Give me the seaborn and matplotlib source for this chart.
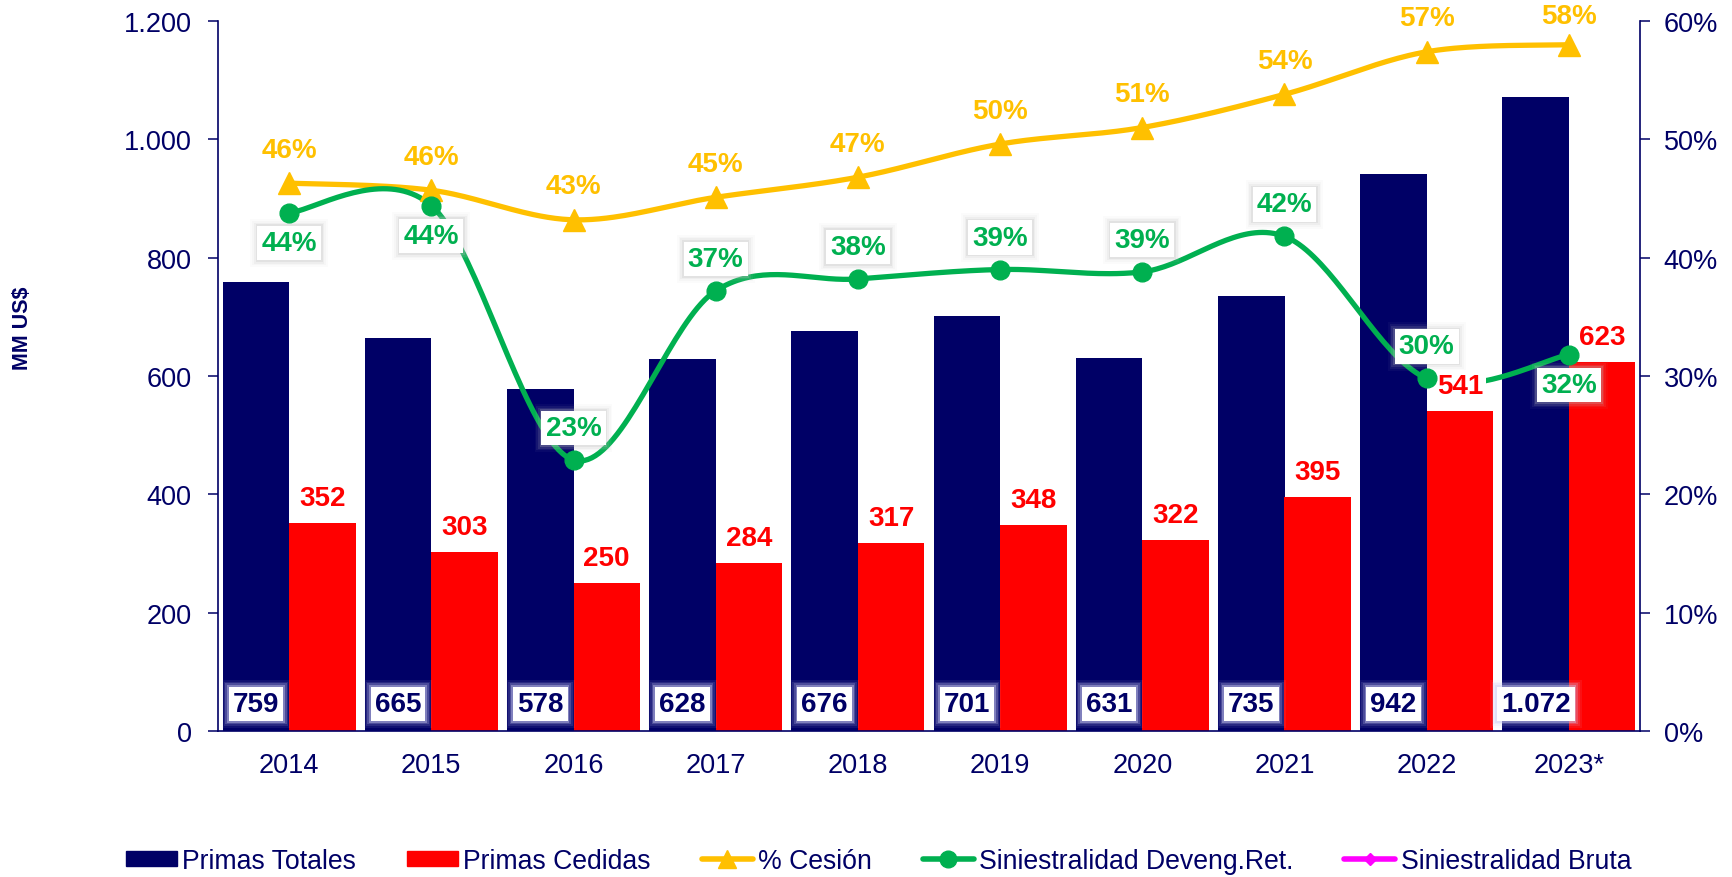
import numpy as np
import pandas as pd
import matplotlib
matplotlib.use("Agg")
import matplotlib.pyplot as plt
import matplotlib.patches as mpatches
from matplotlib.lines import Line2D
from matplotlib.ticker import FuncFormatter, FixedLocator
import seaborn as sns

# ---- data -------------------------------------------------------------
years = ["2014", "2015", "2016", "2017", "2018", "2019", "2020", "2021", "2022", "2023*"]
primas_totales = [759, 665, 578, 628, 676, 701, 631, 735, 942, 1072]
primas_cedidas = [352, 303, 250, 284, 317, 348, 322, 395, 541, 623]
pct_cesion = [46.3, 45.7, 43.2, 45.1, 46.8, 49.6, 51.0, 53.8, 57.4, 58.0]
sin_deveng_ret = [43.8, 44.4, 22.9, 37.2, 38.2, 39.0, 38.8, 41.8, 29.8, 31.8]
green_label_above = [False, False, True, True, True, True, True, True, True, False]

series_names = ["Primas Totales", "Primas Cedidas", "% Cesión",
                "Siniestralidad Deveng.Ret.", "Siniestralidad Bruta"]

NAVY = "#000066"
RED = "#FF0000"
YELLOW = "#FFC000"
GREEN = "#00B050"
MAGENTA = "#FF00FF"

sns.set_style("white")
plt.rcParams["font.family"] = ["Liberation Sans", "DejaVu Sans"]


def thousands(v, _pos=None):
    return f"{int(round(v)):,}".replace(",", ".")


def smooth_curve(xv, yv, n=40):
    """Cubic Bezier smoothing through every point (Catmull-Rom style)."""
    P = np.column_stack([xv, yv]).astype(float)
    E = np.vstack([P[0], P, P[-1]])
    out = []
    t = np.linspace(0, 1, n)[:, None]
    for i in range(len(P) - 1):
        p0, p3 = P[i], P[i + 1]
        c1 = p0 + (E[i + 2] - E[i]) / 6.0
        c2 = p3 - (E[i + 3] - E[i + 1]) / 6.0
        seg = ((1 - t) ** 3) * p0 + 3 * ((1 - t) ** 2) * t * c1 \
            + 3 * (1 - t) * t ** 2 * c2 + t ** 3 * p3
        out.append(seg if i == 0 else seg[1:])
    out = np.vstack(out)
    return out[:, 0], out[:, 1]


def glow_label(axis, text, xy, offset, color, glow, strength=1.0, xycoords="data", z=3.5):
    """Bold label on a white box whose edge fades out softly."""
    common = dict(xy=xy, xycoords=xycoords, xytext=offset, textcoords="offset points",
                  ha="center", va="center", fontsize=20, fontweight="bold")
    for pad, alpha in [(0.40, 0.08), (0.33, 0.13), (0.27, 0.22), (0.21, 0.4)]:
        axis.annotate(text, color="none", zorder=z - 0.01,
                      bbox=dict(boxstyle=f"square,pad={pad}", fc=glow, ec="none",
                                alpha=alpha * strength), **common)
    axis.annotate(text, color=color, zorder=z,
                  bbox=dict(boxstyle="square,pad=0.15", fc="white", ec="none"), **common)


df = pd.DataFrame({
    "Año": years * 2,
    "Valor": primas_totales + primas_cedidas,
    "Serie": [series_names[0]] * len(years) + [series_names[1]] * len(years),
})

W, H = 1733, 878
fig = plt.figure(figsize=(W / 100, H / 100), dpi=100)
ax = fig.add_axes([218 / W, 1 - 732 / H, (1640 - 218) / W, (732 - 22) / H])

BAR_W = 0.935
sns.barplot(data=df, x="Año", y="Valor", hue="Serie", palette=[NAVY, RED],
            width=BAR_W, saturation=1, linewidth=0, ax=ax, legend=False)

ax.set_xlim(-0.5, len(years) - 0.5)
ax.set_ylim(0, 1200)
ax.set_yticks(np.arange(0, 1201, 200))
ax.yaxis.set_major_formatter(FuncFormatter(thousands))
ax.set_xlabel("")
ax.set_ylabel("")
fig.text(23 / W, 1 - 328 / H, "MM US$", rotation=90, ha="center", va="center",
         fontsize=15.5, fontweight="bold", color=NAVY)

# category ticks: labels centred, marks on the boundaries
ax.set_xticks(range(len(years)))
ax.set_xticklabels(years)
ax.xaxis.set_minor_locator(FixedLocator(np.arange(-0.5, len(years), 1.0)))
ax.tick_params(axis="x", which="major", length=0, pad=15, labelsize=19.5, labelcolor=NAVY)
ax.tick_params(axis="x", which="minor", length=7, width=1.1, color=NAVY, direction="out")
ax.tick_params(axis="y", which="major", left=True, length=7, width=1.1, color=NAVY,
               direction="out", pad=12, labelsize=19.5, labelcolor=NAVY)

for s in ["top", "right"]:
    ax.spines[s].set_visible(False)
for s in ["left", "bottom"]:
    ax.spines[s].set_color(NAVY)
    ax.spines[s].set_linewidth(1.2)

# secondary axis for percentages
ax2 = ax.twinx()
ax2.set_ylim(0, 60)
ax2.set_yticks(np.arange(0, 61, 10))
ax2.yaxis.set_major_formatter(FuncFormatter(lambda v, p: f"{int(v)}%"))
ax2.tick_params(axis="y", right=True, length=7, width=1.1, color=NAVY, direction="out",
                pad=10, labelsize=19.5, labelcolor=NAVY)
for s in ["top", "left", "bottom"]:
    ax2.spines[s].set_visible(False)
ax2.spines["right"].set_color(NAVY)
ax2.spines["right"].set_linewidth(1.2)
ax2.grid(False)

xpos = np.arange(len(years))

# smoothed lines
for vals, col in [(pct_cesion, YELLOW), (sin_deveng_ret, GREEN)]:
    sx, sy = smooth_curve(xpos, vals)
    sns.lineplot(x=sx, y=sy, sort=False, estimator=None, color=col, lw=3.8,
                 ax=ax2, zorder=2, legend=False)

ax2.plot(xpos, pct_cesion, ls="none", marker="^", ms=16, color=YELLOW, zorder=4)
ax2.plot(xpos, sin_deveng_ret, ls="none", marker="o", ms=13.5, color=GREEN, zorder=4)

lbl_font = dict(fontsize=20, fontweight="bold")
half = BAR_W / 4

# bar labels (drawn on the top axes so they sit above the lines)
for i, v in enumerate(primas_totales):
    glow_label(ax2, thousands(v), (i - half, 0), (0, 19.5), NAVY, "#d0d0f4",
               xycoords=ax.transData)
for i, v in enumerate(primas_cedidas):
    ax2.annotate(thousands(v), xy=(i + half, v), xycoords=ax.transData,
                 xytext=(0, 18), textcoords="offset points", ha="center", va="center",
                 color=RED, zorder=3.5, **lbl_font,
                 bbox=dict(boxstyle="square,pad=0.1", fc="white", ec="none"))

# percentage labels
for i, v in enumerate(pct_cesion):
    dy = 24 if i < len(pct_cesion) - 1 else 21
    ax2.annotate(f"{round(v)}%", xy=(i, v), xytext=(0, dy), textcoords="offset points",
                 ha="center", va="center", color=YELLOW, zorder=3.5, **lbl_font)
for i, v in enumerate(sin_deveng_ret):
    dy = 23 if green_label_above[i] else -22
    glow_label(ax2, f"{round(v)}%", (i, v), (0, dy), GREEN, "#bdbdbd", strength=0.6)

# legend
handles = [
    mpatches.Patch(color=NAVY),
    mpatches.Patch(color=RED),
    Line2D([], [], color=YELLOW, lw=4, marker="^", ms=13),
    Line2D([], [], color=GREEN, lw=4, marker="o", ms=12),
    Line2D([], [], color=MAGENTA, lw=4, marker="D", ms=6),
]
fig.legend(handles, series_names, loc="center", bbox_to_anchor=(0.507, 1 - 862 / H),
           ncol=5, frameon=False, fontsize=19.2, labelcolor=NAVY, handlelength=1.92,
           handleheight=0.52, handletextpad=0.2, columnspacing=1.9)

fig.savefig("out.png", dpi=100)
